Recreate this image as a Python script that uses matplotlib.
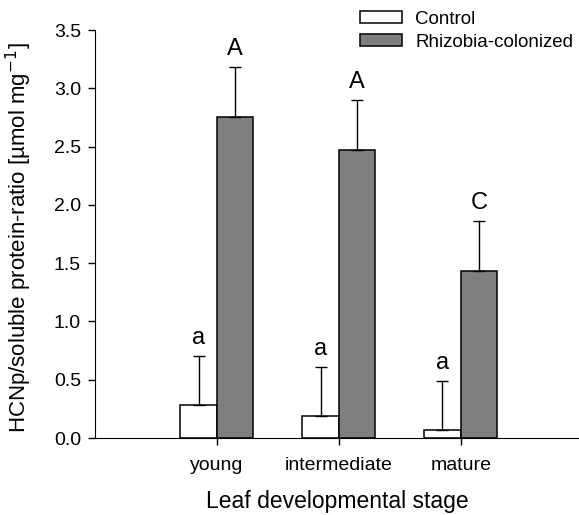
import numpy as np
import matplotlib
matplotlib.use("Agg")
import matplotlib.pyplot as plt

plt.rcParams['font.family'] = ['Liberation Sans', 'DejaVu Sans']

# data
stages = ['young', 'intermediate', 'mature']
control = [0.28, 0.19, 0.07]
control_err = [0.42, 0.42, 0.42]
rhizobia = [2.75, 2.47, 1.43]
rhizobia_err = [0.43, 0.43, 0.43]
control_letters = ['a', 'a', 'a']
rhizobia_letters = ['A', 'A', 'C']

fig = plt.figure(figsize=(5.79, 5.15), dpi=100)
ax = fig.add_axes([0.164, 0.1495, 0.836, 0.7922])

x = np.arange(1, len(stages) + 1)
w = 0.3
ekw = dict(ecolor='black', elinewidth=1.0, capsize=4.5, capthick=1.0)

ax.bar(x - w / 2, control, w, color='white', edgecolor='black', linewidth=1.1,
       yerr=[np.zeros(3), control_err], error_kw=ekw, label='Control')
ax.bar(x + w / 2, rhizobia, w, color='#7f7f7f', edgecolor='black', linewidth=1.1,
       yerr=[np.zeros(3), rhizobia_err], error_kw=ekw, label='Rhizobia-colonized')

# significance letters
for i in range(len(stages)):
    ax.text(x[i] - w / 2, control[i] + control_err[i] + 0.06, control_letters[i],
            ha='center', va='bottom', fontsize=17)
    ax.text(x[i] + w / 2, rhizobia[i] + rhizobia_err[i] + 0.06, rhizobia_letters[i],
            ha='center', va='bottom', fontsize=17)

ax.set_xlim(0, 3.97)
ax.set_ylim(0, 3.5)
yt = np.arange(0, 3.51, 0.5)
ax.set_yticks(yt)
ax.set_yticklabels([f'{v:.1f}' for v in yt])
ax.set_xticks(x)
ax.set_xticklabels(stages)
ax.tick_params(axis='both', labelsize=14, direction='out', length=5, width=1.0)
ax.tick_params(axis='y', pad=5)
ax.tick_params(axis='x', pad=9)

ax.spines['top'].set_visible(False)
ax.spines['right'].set_visible(False)

ax.set_xlabel('Leaf developmental stage', fontsize=16.5)
ax.set_ylabel(r'HCNp/soluble protein-ratio [µmol mg$^{-1}$]', fontsize=16)
ax.xaxis.set_label_coords(0.5, -0.128)
ax.yaxis.set_label_coords(-0.126, 0.49)

ax.legend(loc='upper left', bbox_to_anchor=(360 / 579, 1 - 11 / 515), bbox_transform=fig.transFigure,
          frameon=False, fontsize=13.5, borderpad=0, borderaxespad=0,
          handlelength=2.25, handleheight=0.6, handletextpad=0.7, labelspacing=0.32)

fig.savefig('out.png', dpi=100)
